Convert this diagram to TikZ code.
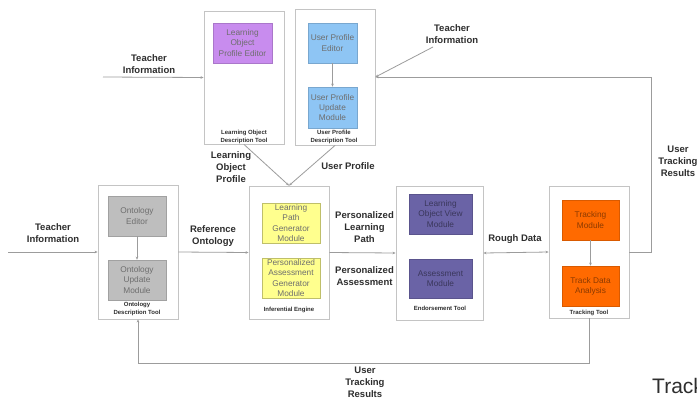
\documentclass[tikz,border=0pt]{standalone}
\usepackage{fontspec}
\setmainfont{Liberation Sans}
\usetikzlibrary{arrows.meta}

\definecolor{frame}{HTML}{C4C4C4}
\definecolor{wire}{HTML}{9C9C9C}
\definecolor{modtext}{HTML}{6E6E6E}
\definecolor{labtext}{HTML}{2E2E2E}
\definecolor{cpurple}{HTML}{C88CEE}
\definecolor{cblue}{HTML}{8EC5F4}
\definecolor{cgray}{HTML}{BEBEBE}
\definecolor{cyellow}{HTML}{FFFF8E}
\definecolor{cindigo}{HTML}{6A63A6}
\definecolor{corange}{HTML}{FF6A00}

\tikzset{
  toolbox/.style={draw=frame, line width=0.9pt, fill=white, inner sep=0pt},
  module/.style={inner sep=0.5pt, align=center, text=modtext,
    font=\fontsize{8.3}{10.2}\selectfont, line width=0.6pt},
  toollabel/.style={font=\bfseries\fontsize{6}{8.2}\selectfont, text=labtext, align=center, inner sep=0pt},
  flowlabel/.style={font=\bfseries\fontsize{9.5}{12}\selectfont, text=labtext, align=center, inner sep=0pt},
  wirearr/.style={draw=wire, line width=0.8pt, -{Stealth[length=3pt,width=2.6pt]}},
  wireboth/.style={draw=wire, line width=0.8pt, {Stealth[length=3pt,width=2.6pt]}-{Stealth[length=3pt,width=2.6pt]}},
}

\begin{document}
\begin{tikzpicture}[x=1pt,y=-1pt]
\useasboundingbox (0,0) rectangle (697,400);
\fill[white] (0,0) rectangle (697,400);

% ---------- tool frames ----------
\node[toolbox, minimum width=80, minimum height=133] (lo) at (244,77.5) {};
\node[toolbox, minimum width=80, minimum height=136] (up) at (335,77) {};
\node[toolbox, minimum width=80, minimum height=134] (on) at (138,252) {};
\node[toolbox, minimum width=80, minimum height=133] (ie) at (289,252.5) {};
\node[toolbox, minimum width=87, minimum height=134] (et) at (439.5,253) {};
\node[toolbox, minimum width=80, minimum height=132] (tt) at (589,252) {};

% ---------- modules ----------
\node[module, fill=cpurple, draw=cpurple!85!black, minimum width=59, minimum height=40] (loe) at (242.5,43) {Learning\\Object\\Profile Editor};

\node[module, fill=cblue, draw=cblue!85!black, minimum width=49, minimum height=40] (upe) at (332.5,43) {User Profile\\Editor};
\node[module, fill=cblue, draw=cblue!85!black, minimum width=49, minimum height=41] (upu) at (332.5,107.5) {User Profile\\Update\\Module};

\node[module, fill=cgray, draw=cgray!85!black, minimum width=58, minimum height=40] (oe) at (137,216) {Ontology\\Editor};
\node[module, fill=cgray, draw=cgray!85!black, minimum width=58, minimum height=40] (ou) at (137,280) {Ontology\\Update\\Module};

\node[module, fill=cyellow, draw=cyellow!75!black, minimum width=58, minimum height=40] (lp) at (291,223) {Learning\\Path\\Generator\\Module};
\node[module, fill=cyellow, draw=cyellow!75!black, minimum width=58, minimum height=40] (pa) at (291,278) {Personalized\\Assessment\\Generator\\Module};

\node[module, fill=cindigo, draw=cindigo!85!black, text=cindigo!55!black, minimum width=63, minimum height=40] (lv) at (440.5,214) {Learning\\Object View\\Module};
\node[module, fill=cindigo, draw=cindigo!85!black, text=cindigo!55!black, minimum width=63, minimum height=39] (am) at (440.5,278.5) {Assessment\\Module};

\node[module, fill=corange, draw=corange!85!black, text=corange!55!black, minimum width=57, minimum height=40] (tm) at (590.5,220) {Tracking\\Module};
\node[module, fill=corange, draw=corange!85!black, text=corange!55!black, minimum width=57, minimum height=40] (td) at (590.5,286) {Track Data\\Analysis};

% ---------- tool captions ----------
\node[toollabel] at (244,137) {Learning Object\\Description Tool};
\node[toollabel] at (334,137) {User Profile\\Description Tool};
\node[toollabel] at (137,309) {Ontology\\Description Tool};
\node[toollabel] at (289,310) {Inferential Engine};
\node[toollabel] at (440,308) {Endorsement Tool};
\node[toollabel] at (589,313) {Tracking Tool};

% ---------- free ends of connectors ----------
\coordinate (tiTop) at (103,77);
\coordinate (tiRight) at (433,47);
\coordinate (tiLeft) at (8,252);

% ---------- connectors ----------
\draw[wirearr] (oe) -- (ou);
\draw[wirearr] (upe) -- (upu);
\draw[wirearr] (tm) -- (td);

\draw[wirearr] (tiTop) -- (lo.west);
\draw[wirearr] (tiRight) -- (up.east);
\draw[wirearr] (tiLeft) -- (on.west);
\draw[wirearr] (tt.east) -- ++(22,0) |- (up.east);
\draw[wirearr] (tt.south) -- ++(0,45) -| (on.south);
\draw[wirearr] (on.east) -- (ie.west);
\draw[wirearr] (lo.south) -- (ie.north);
\draw[wirearr] (up.south) -- (ie.north);
\draw[wirearr] (ie.east) -- (et.west);
\draw[wireboth] (et.east) -- (tt.west);

% ---------- connector labels ----------
\node[flowlabel] at (149,64) {Teacher\\Information};
\node[flowlabel] at (452,34) {Teacher\\Information};
\node[flowlabel] at (53,233) {Teacher\\Information};
\node[flowlabel] at (678,161) {User\\Tracking\\Results};
\node[flowlabel] at (231,167) {Learning\\Object\\Profile};
\node[flowlabel] at (348,166) {User Profile};
\node[flowlabel] at (213,236) {Reference\\Ontology};
\node[flowlabel] at (364.5,227) {Personalized\\Learning\\Path};
\node[flowlabel] at (364.5,276) {Personalized\\Assessment};
\node[flowlabel] at (515,239) {Rough Data};
\node[flowlabel] at (365,382) {User\\Tracking\\Results};

\node[anchor=base west, inner sep=0pt, font=\fontsize{21}{24}\selectfont, text=labtext] (big) at (652,393) {Track};
\end{tikzpicture}
\end{document}
